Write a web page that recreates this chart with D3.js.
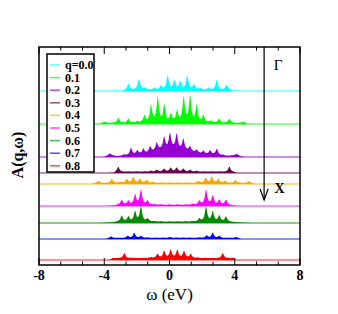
<!DOCTYPE html>
<html lang="en">
	<head>
		<meta charset="utf-8">
		<title>A(q,w)</title>
		<script type="text/javascript" src="https://cdn.jsdelivr.net/npm/d3@7"></script>
		<style type="text/css">
			body { margin: 0; background: white; }
			text { font-family: "Liberation Serif", "Times New Roman", serif; }
		</style>
	</head>
	<body>
		<script type="text/javascript">

			// q values, colors and vertical offsets of each curve
			var qLabels = ["q=0.0", "0.1", "0.2", "0.3", "0.4", "0.5", "0.6", "0.7", "0.8"]
			var colors = ["#00ffff", "#00ff00", "#9400d3", "#670748", "#ffa500", "#ff00ff", "#008b00", "#0000ff", "#ff0000"]
			var offsets = [174, 141, 108, 92, 81, 59, 42, 26, 5]

			// peaks [omega, height]
			var peaks = [
				[[-2.52,6],[-1.87,11],[-1.5,2],[-0.93,2],[-0.52,4],[-0.11,14],[0.3,9],[0.65,8],[1.09,14],[1.5,5],[1.87,2],[2.4,2],[2.9,10],[3.5,5]],
				[[-4.0,1.5],[-3.14,5],[-2.52,4],[-1.97,1.5],[-1.54,7],[-1.13,17],[-0.72,25],[-0.32,17],[0.09,8],[0.46,11],[0.87,25],[1.26,26],[1.67,17],[2.08,7],[2.53,2],[3.04,4],[3.67,4],[4.53,1.5]],
				[[-3.65,2],[-2.79,1],[-2.36,7],[-1.97,4],[-1.6,5],[-1.19,6],[-0.78,8],[-0.33,12],[0.03,15],[0.44,15],[0.85,11],[1.26,5],[1.67,3],[2.08,3],[2.49,4],[2.9,6],[3.3,1],[4.12,2]],
				[[-3.14,5],[-2.5,0.5],[-2.0,0.5],[-1.5,0.5],[-1.15,1],[-0.78,2],[-0.33,3],[0.07,4],[0.44,4],[0.85,3],[1.26,2],[1.67,1],[2.1,0.5],[2.6,0.5],[3.1,0.5],[3.67,5]],
				[[-4.36,2],[-3.54,4],[-3.03,1],[-2.62,4],[-2.22,6],[-1.81,4],[-1.4,3],[-1.0,1],[-0.5,0.5],[0,0.5],[0.5,0.5],[1.0,0.5],[1.77,2],[2.22,5],[2.59,6],[3.0,4],[3.4,2],[4.05,3],[4.87,2]],
				[[-2.93,5],[-2.52,4],[-2.11,10],[-1.75,15],[-1.34,4],[-0.9,0.5],[-0.5,0.5],[0,0.5],[0.5,0.5],[1.0,0.5],[1.4,1],[1.83,4],[2.24,15],[2.65,9],[3.05,5],[3.46,5]],
				[[-2.93,6],[-2.52,5],[-2.11,10],[-1.75,15],[-1.34,3],[-0.9,0.5],[-0.5,0.5],[0,0.5],[0.5,0.5],[1.0,0.5],[1.4,0.5],[1.83,3],[2.24,15],[2.65,10],[3.05,6],[3.46,5]],
				[[-3.58,1.5],[-2.56,2],[-2.16,5],[-1.75,2],[-1.34,0.5],[-0.8,0.3],[-0.38,0.5],[0.03,1],[0.44,0.5],[0.85,0.5],[1.26,0.5],[1.8,0.5],[2.28,2.5],[2.65,5],[3.05,2],[4.08,1]],
				[[-2.77,5],[-2.3,0.3],[-1.6,0.3],[-1.15,0.8],[-0.74,4],[-0.33,7],[0.07,8],[0.48,8],[0.89,7],[1.3,4],[1.71,0.5],[2.2,0.3],[3.26,5],[3.87,0.3]]
			]

			// background under the peaks [omega, level]
			var backgrounds = [
				[[-2.8,0],[-2.6,1],[3.7,1],[3.9,0]],
				[[-4.3,0],[-4.1,1],[4.5,1],[4.8,0]],
				[[-4.0,0],[-3.8,1.5],[-3.5,1.5],[-3.2,0.8],[-2.6,1.5],[-1.5,3],[-0.5,7],[0.2,8],[1.0,6],[2.0,3],[2.9,2],[3.4,1],[3.9,1.5],[4.3,1],[4.5,0]],
				[[-3.4,0],[-3.3,1.2],[3.9,1.2],[4.1,0]],
				[[-4.7,0],[-4.5,1],[5.0,1],[5.2,0]],
				[[-3.6,0],[-3.2,1],[3.7,1],[4.0,0]],
				[[-4.4,0],[-3.5,0.6],[-3.2,1.2],[3.7,1.2],[4.2,0.6],[5.0,0]],
				[[-3.9,0],[-3.7,1],[4.2,1],[4.4,0]],
				[[-3.7,0],[-3.5,1.8],[3.95,1.8],[4.05,0]]
			]

			var xTicks = [-8, -4, 0, 4, 8]

			var w = 338, h = 314
			var pLeft = 39, pRight = 300, pTop = 47, pBottom = 265

			var svg = d3.select("body").append("svg").attr("width", w).attr("height", h)

			var xscale = d3.scaleLinear().domain([-8, 8]).range([pLeft, pRight])
			var yscale = d3.scaleLinear().domain([0, 218]).range([pBottom, pTop])

			var gamma = 0.085
			var grid = d3.range(-8, 8.0001, 0.02)

			function bgAt(bg, x) {
				if (x <= bg[0][0] || x >= bg[bg.length-1][0]) return 0
				for (var i=1; i<bg.length; i++) {
					if (x <= bg[i][0]) {
						var t = (x - bg[i-1][0]) / (bg[i][0] - bg[i-1][0])
						return bg[i-1][1] + t * (bg[i][1] - bg[i-1][1])
					}
				}
				return 0
			}

			function curve(k) {
				return grid.map(function(x) {
					var s = 0
					peaks[k].forEach(function(p) {
						var dx = x - p[0]
						s += p[1] * gamma * gamma / (dx*dx + gamma*gamma)
					})
					return [x, s + bgAt(backgrounds[k], x)]
				})
			}

			var plot = svg.append("g")

			for (var k=0; k<qLabels.length; k++) {
				var off = offsets[k]
				var area = d3.area()
					.x(function(d) { return xscale(d[0]) })
					.y0(yscale(off))
					.y1(function(d) { return yscale(off + d[1]) })
				plot.append("path")
					.datum(curve(k))
					.attr("d", area)
					.attr("fill", colors[k])
				plot.append("line")
					.attr("x1", xscale(-8)).attr("x2", xscale(8))
					.attr("y1", yscale(off)).attr("y2", yscale(off))
					.attr("stroke", colors[k])
					.attr("stroke-opacity", 0.6)
					.attr("stroke-width", 1.6)
			}

			// Gamma -> X arrow
			var arrowX = 5.8, arrowTop = 218, arrowEnd = 65
			svg.append("line")
				.attr("x1", xscale(arrowX)).attr("x2", xscale(arrowX))
				.attr("y1", yscale(arrowTop)).attr("y2", yscale(arrowEnd))
				.attr("stroke", "black").attr("stroke-width", 1.2)
			svg.append("path")
				.attr("d", "M" + (xscale(arrowX) - 4) + "," + (yscale(arrowEnd) - 11) + "L" + xscale(arrowX) + "," + yscale(arrowEnd) + "L" + (xscale(arrowX) + 4) + "," + (yscale(arrowEnd) - 11))
				.attr("fill", "none").attr("stroke", "black").attr("stroke-width", 1.2)
			svg.append("text")
				.attr("x", xscale(6.65)).attr("y", yscale(195))
				.attr("text-anchor", "middle")
				.attr("font-size", "15px")
				.text("Γ")
			svg.append("text")
				.attr("x", xscale(6.75)).attr("y", yscale(72))
				.attr("text-anchor", "middle")
				.attr("font-size", "14px")
				.attr("font-weight", "bold")
				.text("X")

			// frame and ticks
			svg.append("rect")
				.attr("x", pLeft).attr("y", pTop)
				.attr("width", pRight - pLeft).attr("height", pBottom - pTop)
				.attr("fill", "none").attr("stroke", "black").attr("stroke-width", 1.5)

			var minor = d3.range(-8, 8.001, 4/3)
			minor.forEach(function(t) {
				var major = Math.abs(t/4 - Math.round(t/4)) < 1e-6
				var len = major ? 7 : 3.5
				svg.append("line")
					.attr("x1", xscale(t)).attr("x2", xscale(t))
					.attr("y1", pBottom).attr("y2", pBottom - len)
					.attr("stroke", "black").attr("stroke-width", 1)
				svg.append("line")
					.attr("x1", xscale(t)).attr("x2", xscale(t))
					.attr("y1", pTop).attr("y2", pTop + len)
					.attr("stroke", "black").attr("stroke-width", 1)
			})

			svg.selectAll(".xt")
				.data(xTicks)
				.enter()
				.append("text")
				.attr("class", "xt")
				.attr("x", function(d) { return xscale(d) })
				.attr("y", pBottom + 15)
				.attr("text-anchor", "middle")
				.attr("font-size", "14px")
				.attr("font-weight", "bold")
				.text(function(d) { return d })

			svg.append("text")
				.attr("x", xscale(0)).attr("y", 300)
				.attr("text-anchor", "middle")
				.attr("font-size", "17px")
				.text("ω (eV)")

			svg.append("text")
				.attr("transform", "translate(23,155) rotate(-90)")
				.attr("text-anchor", "middle")
				.attr("font-size", "16px")
				.attr("font-weight", "bold")
				.text("A(q,ω)")

			// legend
			var lg = svg.append("g")
			lg.append("rect")
				.attr("x", 47).attr("y", 54).attr("width", 47).attr("height", 118)
				.attr("fill", "white").attr("stroke", "black").attr("stroke-width", 1.5)
			qLabels.forEach(function(q, i) {
				var y = 65 + i * 12.6
				lg.append("line")
					.attr("x1", 50).attr("x2", 60)
					.attr("y1", y).attr("y2", y)
					.attr("stroke", colors[i]).attr("stroke-opacity", 0.7).attr("stroke-width", 1.5)
				lg.append("text")
					.attr("x", 65).attr("y", y + 4)
					.attr("font-size", "12px")
					.attr("font-weight", "bold")
					.text(q)
			})

		</script>
	</body>
</html>
